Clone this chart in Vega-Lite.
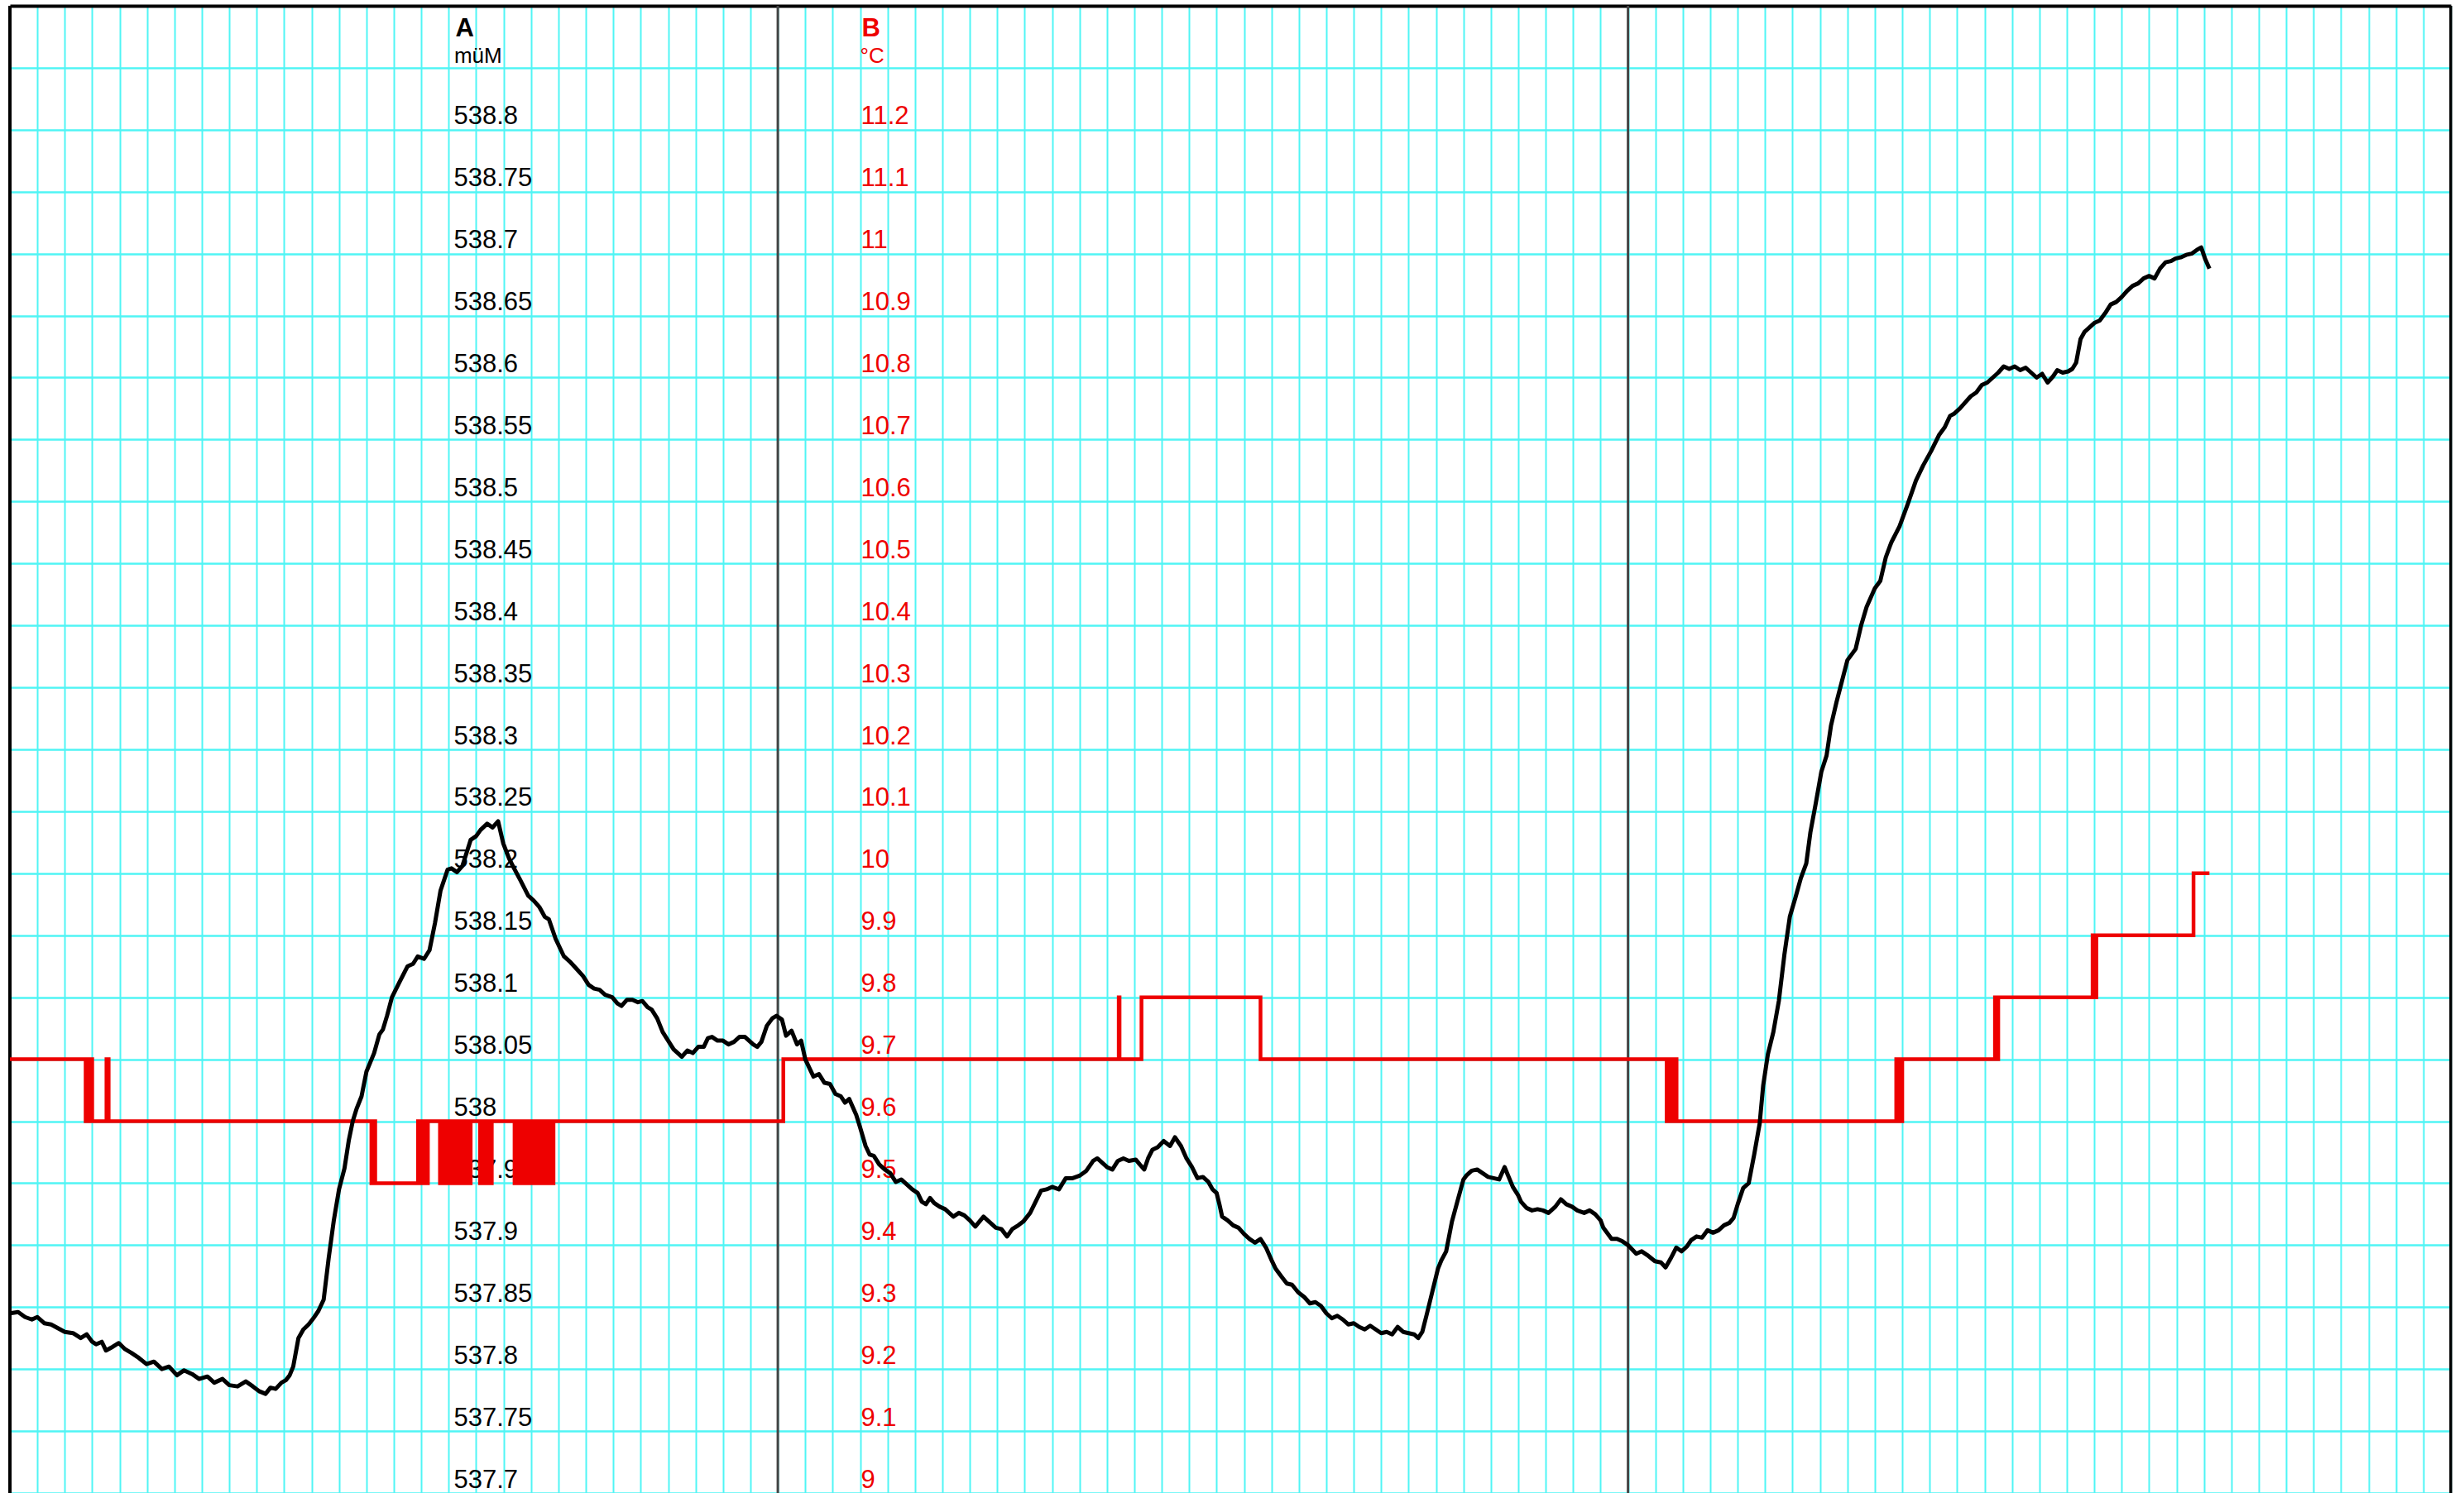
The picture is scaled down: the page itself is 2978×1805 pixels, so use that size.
{
  "$schema": "https://vega.github.io/schema/vega-lite/v6.json",
  "width": 2950,
  "height": 1798,
  "autosize": {"type": "none"},
  "padding": {"left": 12, "top": 7, "right": 16, "bottom": 0},
  "background": "white",
  "config": {"view": {"stroke": null}, "font": "Liberation Sans"},
  "datasets": {
    "level": [
      {"day":0,"A":537.845},{"day":0.3,"A":537.846},{"day":0.55,"A":537.842},{"day":0.8,"A":537.840},{"day":1.0,"A":537.842},{"day":1.25,"A":537.837},{"day":1.5,"A":537.836},{"day":1.75,"A":537.833},{"day":2.0,"A":537.830},{"day":2.3,"A":537.829},{"day":2.58,"A":537.825},{"day":2.8,"A":537.828},{"day":3.0,"A":537.822},{"day":3.14,"A":537.820},{"day":3.35,"A":537.822},{"day":3.5,"A":537.815},{"day":3.75,"A":537.818},{"day":3.97,"A":537.821},{"day":4.2,"A":537.816},{"day":4.43,"A":537.813},{"day":4.7,"A":537.809},{"day":4.98,"A":537.804},{"day":5.25,"A":537.806},{"day":5.54,"A":537.800},{"day":5.8,"A":537.802},{"day":6.09,"A":537.795},{"day":6.35,"A":537.799},{"day":6.64,"A":537.796},{"day":6.9,"A":537.792},{"day":7.2,"A":537.794},{"day":7.45,"A":537.789},{"day":7.75,"A":537.792},{"day":8.0,"A":537.787},{"day":8.3,"A":537.786},{"day":8.6,"A":537.790},{"day":8.86,"A":537.786},{"day":9.1,"A":537.782},{"day":9.32,"A":537.780},{"day":9.5,"A":537.785},{"day":9.69,"A":537.784},{"day":9.9,"A":537.789},{"day":10.06,"A":537.791},{"day":10.2,"A":537.795},{"day":10.33,"A":537.802},{"day":10.52,"A":537.825},{"day":10.7,"A":537.832},{"day":10.89,"A":537.836},{"day":11.1,"A":537.842},{"day":11.25,"A":537.847},{"day":11.44,"A":537.856},{"day":11.62,"A":537.889},{"day":11.81,"A":537.920},{"day":12.0,"A":537.945},{"day":12.2,"A":537.962},{"day":12.36,"A":537.985},{"day":12.5,"A":538.000},{"day":12.64,"A":538.010},{"day":12.82,"A":538.020},{"day":13.0,"A":538.040},{"day":13.28,"A":538.055},{"day":13.47,"A":538.070},{"day":13.6,"A":538.074},{"day":13.75,"A":538.085},{"day":13.93,"A":538.100},{"day":14.2,"A":538.112},{"day":14.5,"A":538.125},{"day":14.7,"A":538.127},{"day":14.87,"A":538.133},{"day":15.1,"A":538.131},{"day":15.3,"A":538.138},{"day":15.5,"A":538.160},{"day":15.7,"A":538.186},{"day":15.96,"A":538.203},{"day":16.1,"A":538.204},{"day":16.3,"A":538.201},{"day":16.5,"A":538.206},{"day":16.8,"A":538.227},{"day":17.0,"A":538.230},{"day":17.16,"A":538.235},{"day":17.4,"A":538.240},{"day":17.6,"A":538.237},{"day":17.8,"A":538.242},{"day":17.99,"A":538.224},{"day":18.2,"A":538.212},{"day":18.36,"A":538.205},{"day":18.6,"A":538.195},{"day":18.9,"A":538.182},{"day":19.1,"A":538.178},{"day":19.3,"A":538.173},{"day":19.5,"A":538.165},{"day":19.65,"A":538.163},{"day":19.9,"A":538.147},{"day":20.2,"A":538.133},{"day":20.45,"A":538.128},{"day":20.7,"A":538.122},{"day":20.9,"A":538.117},{"day":21.1,"A":538.110},{"day":21.3,"A":538.107},{"day":21.5,"A":538.106},{"day":21.7,"A":538.102},{"day":21.96,"A":538.100},{"day":22.15,"A":538.095},{"day":22.3,"A":538.093},{"day":22.5,"A":538.098},{"day":22.7,"A":538.098},{"day":22.9,"A":538.096},{"day":23.06,"A":538.097},{"day":23.25,"A":538.092},{"day":23.4,"A":538.090},{"day":23.6,"A":538.083},{"day":23.8,"A":538.072},{"day":24.0,"A":538.065},{"day":24.2,"A":538.058},{"day":24.35,"A":538.055},{"day":24.5,"A":538.052},{"day":24.7,"A":538.057},{"day":24.9,"A":538.055},{"day":25.1,"A":538.060},{"day":25.3,"A":538.060},{"day":25.45,"A":538.067},{"day":25.6,"A":538.068},{"day":25.8,"A":538.065},{"day":26.0,"A":538.065},{"day":26.2,"A":538.062},{"day":26.4,"A":538.064},{"day":26.6,"A":538.068},{"day":26.8,"A":538.068},{"day":27.0,"A":538.064},{"day":27.1,"A":538.062},{"day":27.25,"A":538.060},{"day":27.4,"A":538.064},{"day":27.6,"A":538.077},{"day":27.8,"A":538.083},{"day":27.95,"A":538.085},
      {"day":28.15,"A":538.082},{"day":28.3,"A":538.069},{"day":28.5,"A":538.073},{"day":28.7,"A":538.062},{"day":28.85,"A":538.065},{"day":29.0,"A":538.050},{"day":29.3,"A":538.036},{"day":29.5,"A":538.038},{"day":29.7,"A":538.031},{"day":29.9,"A":538.030},{"day":30.1,"A":538.022},{"day":30.3,"A":538.020},{"day":30.45,"A":538.015},{"day":30.6,"A":538.018},{"day":30.86,"A":538.005},{"day":31.0,"A":537.995},{"day":31.2,"A":537.980},{"day":31.35,"A":537.973},{"day":31.5,"A":537.972},{"day":31.7,"A":537.965},{"day":31.9,"A":537.961},{"day":32.1,"A":537.958},{"day":32.3,"A":537.951},{"day":32.5,"A":537.953},{"day":32.7,"A":537.949},{"day":32.9,"A":537.945},{"day":33.1,"A":537.942},{"day":33.25,"A":537.935},{"day":33.4,"A":537.933},{"day":33.55,"A":537.938},{"day":33.7,"A":537.934},{"day":33.9,"A":537.931},{"day":34.1,"A":537.929},{"day":34.25,"A":537.926},{"day":34.4,"A":537.923},{"day":34.6,"A":537.926},{"day":34.8,"A":537.924},{"day":35.0,"A":537.920},{"day":35.2,"A":537.915},{"day":35.35,"A":537.919},{"day":35.5,"A":537.923},{"day":35.7,"A":537.919},{"day":35.95,"A":537.914},{"day":36.15,"A":537.913},{"day":36.36,"A":537.907},{"day":36.55,"A":537.913},{"day":36.77,"A":537.916},{"day":36.95,"A":537.919},{"day":37.2,"A":537.926},{"day":37.4,"A":537.935},{"day":37.6,"A":537.944},{"day":37.8,"A":537.945},{"day":38.0,"A":537.947},{"day":38.25,"A":537.945},{"day":38.5,"A":537.954},{"day":38.75,"A":537.954},{"day":39.0,"A":537.956},{"day":39.25,"A":537.960},{"day":39.5,"A":537.968},{"day":39.65,"A":537.970},{"day":39.8,"A":537.967},{"day":40.0,"A":537.963},{"day":40.2,"A":537.961},{"day":40.4,"A":537.968},{"day":40.6,"A":537.970},{"day":40.8,"A":537.968},{"day":41.05,"A":537.969},{"day":41.2,"A":537.965},{"day":41.36,"A":537.961},{"day":41.5,"A":537.970},{"day":41.66,"A":537.977},{"day":41.85,"A":537.979},{"day":42.07,"A":537.984},{"day":42.3,"A":537.980},{"day":42.48,"A":537.987},{"day":42.7,"A":537.980},{"day":42.9,"A":537.970},{"day":43.1,"A":537.963},{"day":43.3,"A":537.954},{"day":43.5,"A":537.955},{"day":43.7,"A":537.951},{"day":43.85,"A":537.945},{"day":44.0,"A":537.942},{"day":44.1,"A":537.933},{"day":44.2,"A":537.923},{"day":44.4,"A":537.920},{"day":44.6,"A":537.916},{"day":44.8,"A":537.914},{"day":45.0,"A":537.909},{"day":45.2,"A":537.905},{"day":45.4,"A":537.902},{"day":45.6,"A":537.905},{"day":45.8,"A":537.898},{"day":46.0,"A":537.888},{"day":46.15,"A":537.881},{"day":46.35,"A":537.875},{"day":46.56,"A":537.869},{"day":46.75,"A":537.868},{"day":46.97,"A":537.862},{"day":47.2,"A":537.858},{"day":47.4,"A":537.853},{"day":47.6,"A":537.854},{"day":47.8,"A":537.851},{"day":48.0,"A":537.845},{"day":48.2,"A":537.841},{"day":48.4,"A":537.843},{"day":48.6,"A":537.840},{"day":48.8,"A":537.836},{"day":49.0,"A":537.837},{"day":49.2,"A":537.834},{"day":49.4,"A":537.832},{"day":49.6,"A":537.835},{"day":49.8,"A":537.832},{"day":50.0,"A":537.829},{"day":50.2,"A":537.830},{"day":50.4,"A":537.828},{"day":50.6,"A":537.834},{"day":50.8,"A":537.830},{"day":51.0,"A":537.829},{"day":51.2,"A":537.828},{"day":51.35,"A":537.825},{"day":51.5,"A":537.830},{"day":51.66,"A":537.844},{"day":51.86,"A":537.862},{"day":52.07,"A":537.881},{"day":52.2,"A":537.888},{"day":52.37,"A":537.895},{"day":52.58,"A":537.919},{"day":52.8,"A":537.937},{"day":53.0,"A":537.953},{"day":53.1,"A":537.956},{"day":53.3,"A":537.960},{"day":53.5,"A":537.961},{"day":53.7,"A":537.958},{"day":53.9,"A":537.955},{"day":54.1,"A":537.954},{"day":54.3,"A":537.953},{"day":54.5,"A":537.963},{"day":54.65,"A":537.955},{"day":54.8,"A":537.947},{"day":55.0,"A":537.940},{"day":55.1,"A":537.935},{"day":55.3,"A":537.930},{"day":55.5,"A":537.928},{"day":55.7,"A":537.929},{"day":55.9,"A":537.928},{"day":56.1,"A":537.926},{"day":56.35,"A":537.931},{"day":56.55,"A":537.937},{"day":56.75,"A":537.933},{"day":56.96,"A":537.931},{"day":57.15,"A":537.928},{"day":57.4,"A":537.926},{"day":57.6,"A":537.928},{"day":57.8,"A":537.925},{"day":58.0,"A":537.920},{"day":58.1,"A":537.914},{"day":58.4,"A":537.905},{"day":58.6,"A":537.905},{"day":58.8,"A":537.903},{"day":59.0,"A":537.900},
      {"day":59.3,"A":537.893},{"day":59.5,"A":537.895},{"day":59.7,"A":537.892},{"day":59.98,"A":537.887},{"day":60.2,"A":537.886},{"day":60.37,"A":537.882},{"day":60.55,"A":537.889},{"day":60.76,"A":537.898},{"day":60.95,"A":537.895},{"day":61.15,"A":537.899},{"day":61.3,"A":537.904},{"day":61.5,"A":537.907},{"day":61.7,"A":537.906},{"day":61.9,"A":537.912},{"day":62.1,"A":537.910},{"day":62.3,"A":537.912},{"day":62.5,"A":537.916},{"day":62.7,"A":537.918},{"day":62.85,"A":537.922},{"day":63.0,"A":537.933},{"day":63.2,"A":537.946},{"day":63.4,"A":537.950},{"day":63.6,"A":537.973},{"day":63.8,"A":537.998},{"day":63.93,"A":538.029},{"day":64.1,"A":538.054},{"day":64.3,"A":538.072},{"day":64.5,"A":538.097},{"day":64.7,"A":538.134},{"day":64.9,"A":538.165},{"day":65.1,"A":538.180},{"day":65.3,"A":538.196},{"day":65.5,"A":538.208},{"day":65.65,"A":538.233},{"day":65.85,"A":538.257},{"day":66.05,"A":538.282},{"day":66.24,"A":538.295},{"day":66.4,"A":538.319},{"day":66.6,"A":538.338},{"day":66.8,"A":538.355},{"day":67.0,"A":538.372},{"day":67.3,"A":538.381},{"day":67.5,"A":538.400},{"day":67.7,"A":538.415},{"day":68.0,"A":538.430},{"day":68.2,"A":538.436},{"day":68.4,"A":538.455},{"day":68.6,"A":538.467},{"day":68.9,"A":538.480},{"day":69.2,"A":538.498},{"day":69.5,"A":538.517},{"day":69.76,"A":538.529},{"day":70.06,"A":538.541},{"day":70.35,"A":538.554},{"day":70.55,"A":538.560},{"day":70.74,"A":538.569},{"day":70.9,"A":538.571},{"day":71.1,"A":538.575},{"day":71.3,"A":538.580},{"day":71.5,"A":538.585},{"day":71.7,"A":538.588},{"day":71.9,"A":538.594},{"day":72.1,"A":538.596},{"day":72.3,"A":538.600},{"day":72.5,"A":538.604},{"day":72.7,"A":538.609},{"day":72.9,"A":538.607},{"day":73.1,"A":538.609},{"day":73.3,"A":538.606},{"day":73.5,"A":538.608},{"day":73.7,"A":538.604},{"day":73.9,"A":538.600},{"day":74.1,"A":538.603},{"day":74.3,"A":538.596},{"day":74.5,"A":538.601},{"day":74.65,"A":538.606},{"day":74.85,"A":538.604},{"day":75.05,"A":538.605},{"day":75.2,"A":538.607},{"day":75.34,"A":538.612},{"day":75.5,"A":538.631},{"day":75.65,"A":538.637},{"day":75.8,"A":538.640},{"day":76.0,"A":538.644},{"day":76.2,"A":538.646},{"day":76.4,"A":538.652},{"day":76.6,"A":538.659},{"day":76.8,"A":538.661},{"day":77.0,"A":538.665},{"day":77.2,"A":538.670},{"day":77.4,"A":538.674},{"day":77.6,"A":538.676},{"day":77.8,"A":538.680},{"day":78.0,"A":538.682},{"day":78.2,"A":538.680},{"day":78.4,"A":538.688},{"day":78.6,"A":538.693},{"day":78.8,"A":538.694},{"day":78.96,"A":538.696},{"day":79.15,"A":538.697},{"day":79.35,"A":538.699},{"day":79.55,"A":538.700},{"day":79.74,"A":538.703},{"day":79.9,"A":538.705},{"day":80.04,"A":538.696},{"day":80.2,"A":538.688}
    ],
    "temp": [
      {"day":0,"B":9.7},{"day":2.76,"B":9.6},{"day":2.88,"B":9.7},{"day":3.0,"B":9.6},{"day":3.52,"B":9.7},{"day":3.6,"B":9.6},
      {"day":13.18,"B":9.5},{"day":13.26,"B":9.6},{"day":13.32,"B":9.5},
      {"day":14.88,"B":9.6},{"day":14.94,"B":9.5},{"day":15.0,"B":9.6},{"day":15.06,"B":9.5},{"day":15.12,"B":9.6},{"day":15.18,"B":9.5},{"day":15.24,"B":9.6},
      {"day":15.68,"B":9.5},{"day":15.74,"B":9.6},{"day":15.8,"B":9.5},{"day":15.86,"B":9.6},{"day":15.92,"B":9.5},{"day":15.98,"B":9.6},{"day":16.04,"B":9.5},{"day":16.1,"B":9.6},{"day":16.16,"B":9.5},{"day":16.22,"B":9.6},{"day":16.28,"B":9.5},{"day":16.34,"B":9.6},{"day":16.4,"B":9.5},{"day":16.46,"B":9.6},{"day":16.52,"B":9.5},{"day":16.58,"B":9.6},{"day":16.64,"B":9.5},{"day":16.7,"B":9.6},{"day":16.76,"B":9.5},{"day":16.8,"B":9.6},
      {"day":17.14,"B":9.5},{"day":17.2,"B":9.6},{"day":17.26,"B":9.5},{"day":17.32,"B":9.6},{"day":17.38,"B":9.5},{"day":17.44,"B":9.6},{"day":17.5,"B":9.5},{"day":17.57,"B":9.6},
      {"day":18.4,"B":9.5},{"day":18.46,"B":9.6},{"day":18.52,"B":9.5},{"day":18.58,"B":9.6},{"day":18.64,"B":9.5},{"day":18.7,"B":9.6},{"day":18.76,"B":9.5},{"day":18.82,"B":9.6},{"day":18.88,"B":9.5},{"day":18.94,"B":9.6},{"day":19.0,"B":9.5},{"day":19.06,"B":9.6},{"day":19.12,"B":9.5},{"day":19.18,"B":9.6},{"day":19.24,"B":9.5},{"day":19.3,"B":9.6},
      {"day":19.35,"B":9.5},{"day":19.37,"B":9.6},{"day":19.5,"B":9.5},{"day":19.52,"B":9.6},{"day":19.65,"B":9.5},{"day":19.67,"B":9.6},{"day":19.8,"B":9.5},{"day":19.82,"B":9.6},
      {"day":28.2,"B":9.7},{"day":40.43,"B":9.8},{"day":40.46,"B":9.7},{"day":41.26,"B":9.8},{"day":45.6,"B":9.7},
      {"day":60.41,"B":9.6},{"day":60.47,"B":9.7},{"day":60.53,"B":9.6},{"day":60.59,"B":9.7},{"day":60.65,"B":9.6},{"day":60.71,"B":9.7},{"day":60.77,"B":9.6},
      {"day":68.78,"B":9.7},{"day":68.84,"B":9.6},{"day":68.9,"B":9.7},{"day":68.96,"B":9.6},{"day":69.0,"B":9.7},
      {"day":72.38,"B":9.8},{"day":72.44,"B":9.7},{"day":72.5,"B":9.8},
      {"day":75.94,"B":9.9},{"day":76.0,"B":9.8},{"day":76.08,"B":9.9},
      {"day":79.62,"B":10.0},{"day":80.2,"B":10.0}
    ]
  },
  "layer": [
    {
      "data": {"values": [{}]},
      "layer": [
        {"mark": {"type": "rule", "color": "#444444", "strokeWidth": 3}, "encoding": {"x": {"datum": 28}}},
        {"mark": {"type": "rule", "color": "#444444", "strokeWidth": 3}, "encoding": {"x": {"datum": 59}}},
        {"mark": {"type": "rule", "color": "black", "strokeWidth": 4}, "encoding": {"x": {"datum": 0}}},
        {"mark": {"type": "rule", "color": "black", "strokeWidth": 3.5}, "encoding": {"x": {"datum": 89}}}
      ]
    },
    {
      "data": {"name": "temp"},
      "mark": {"type": "line", "interpolate": "step-after", "color": "#EE0000", "strokeWidth": 4.5},
      "encoding": {
        "x": {"field": "day", "type": "quantitative", "scale": {"domain": [0, 89], "nice": false, "zero": false}},
        "y": {
          "field": "B", "type": "quantitative",
          "scale": {"domain": [9, 11.4], "nice": false, "zero": false},
          "axis": {
            "orient": "right", "offset": -1922,
            "values": [9, 9.1, 9.2, 9.3, 9.4, 9.5, 9.6, 9.7, 9.8, 9.9, 10, 10.1, 10.2, 10.3, 10.4, 10.5, 10.6, 10.7, 10.8, 10.9, 11, 11.1, 11.2],
            "format": "~g", "grid": false, "ticks": false, "domain": false,
            "labelColor": "#EE0000", "labelFontSize": 31, "labelPadding": 0, "labelAlign": "left",
            "labelBaseline": "alphabetic", "labelOffset": -7, "labelOverlap": false, "labelBound": false, "labelFlush": false,
            "title": "B", "titleColor": "#EE0000", "titleFontSize": 31, "titleFontWeight": "bold",
            "titleAngle": 0, "titleAlign": "left", "titleBaseline": "alphabetic", "titleX": 1, "titleY": 36
          }
        }
      }
    },
    {
      "layer": [
        {
          "data": {"name": "level"},
          "mark": {"type": "line", "color": "black", "strokeWidth": 5, "strokeJoin": "round"},
          "encoding": {
            "x": {
              "field": "day", "type": "quantitative",
              "scale": {"domain": [0, 89], "nice": false, "zero": false},
              "axis": {
                "orient": "top", "tickCount": 89, "tickMinStep": 1, "labels": false, "ticks": false,
                "domain": true, "domainColor": "black", "domainWidth": 4,
                "grid": true, "gridColor": "#50F5F5", "gridWidth": 2, "gridOpacity": 1, "title": null
              }
            },
            "y": {
              "field": "A", "type": "quantitative",
              "scale": {"domain": [537.7, 538.9], "nice": false, "zero": false},
              "axis": {
                "orient": "left", "offset": -536,
                "values": [537.7, 537.75, 537.8, 537.85, 537.9, 537.95, 538, 538.05, 538.1, 538.15, 538.2, 538.25, 538.3, 538.35, 538.4, 538.45, 538.5, 538.55, 538.6, 538.65, 538.7, 538.75, 538.8, 538.85],
                "format": "~g", "labelExpr": "datum.value > 538.82 ? '' : datum.label",
                "grid": true, "gridColor": "#50F5F5", "gridWidth": 2.5, "gridOpacity": 1,
                "ticks": false, "domain": false,
                "labelColor": "black", "labelFontSize": 31, "labelPadding": 0, "labelAlign": "left",
                "labelBaseline": "alphabetic", "labelOffset": -7, "labelOverlap": false, "labelBound": false, "labelFlush": false,
                "title": "A", "titleColor": "black", "titleFontSize": 31, "titleFontWeight": "bold",
                "titleAngle": 0, "titleAlign": "left", "titleBaseline": "alphabetic", "titleX": 2, "titleY": 36
              }
            }
          }
        },
        {
          "data": {"values": [{}]},
          "mark": {"type": "text", "text": "müM", "fontSize": 26, "align": "left", "baseline": "alphabetic", "color": "black"},
          "encoding": {"x": {"datum": 16.2}, "y": {"datum": 538.854}}
        },
        {
          "data": {"values": [{}]},
          "mark": {"type": "text", "text": "°C", "fontSize": 26, "align": "left", "baseline": "alphabetic", "color": "#EE0000"},
          "encoding": {"x": {"datum": 31.0}, "y": {"datum": 538.854}}
        }
      ]
    }
  ],
  "resolve": {"scale": {"y": "independent"}, "axis": {"y": "independent"}}
}
